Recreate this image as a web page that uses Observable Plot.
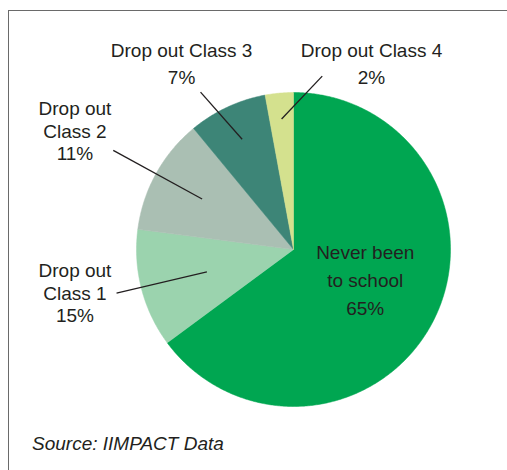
<!DOCTYPE html>
<html>
<head>
<meta charset="utf-8">
<script src="https://cdn.jsdelivr.net/npm/d3@7"></script>
<script src="https://cdn.jsdelivr.net/npm/@observablehq/plot@0.6"></script>
<style>
  html, body { margin: 0; padding: 0; background: #fff; }
  body { width: 507px; height: 470px; position: relative; overflow: hidden; font-family: "Liberation Sans", Arial, sans-serif; }
  #frame { position: absolute; left: 8px; top: 10px; right: -20px; bottom: -20px; border-left: 1.5px solid #6a6a6a; border-top: 1.5px solid #6a6a6a; pointer-events: none; }
  #chart svg { display: block; }
  #caption { margin-top: 8px; padding-left: 32px; font-size: 19px; line-height: 22px; font-style: italic; color: #231f20; }
</style>
</head>
<body>
<div id="chart"></div>
<div id="caption">Source: IIMPACT Data</div>
<div id="frame"></div>
<script>
// ---- data ----
const names = ["Never been to school", "Drop out Class 1", "Drop out Class 2", "Drop out Class 3", "Drop out Class 4"];
const shares = [65, 12.2, 12, 8.1, 2.9];           // slice sizes as drawn
const labels = ["Never been\nto school\n65%", "Drop out\nClass 1\n15%", "Drop out\nClass 2\n11%", "Drop out Class 3\n7%", "Drop out Class 4\n2%"];

// ---- styles / layout (unit-circle coordinates) ----
const colors = ["#00a651", "#9bd3ae", "#aabfb3", "#3d8577", "#d4e18e"];
const labelX = [0.457, -1.392, -1.392, -0.713, 0.497];
const labelY = [-0.420, -0.463, 0.567, 1.054, 1.054];
const labelLH = [1.49, 1.184, 1.184, 1.447, 1.447];
const leaderInner = [null, 0.57, 0.665, 0.775, 0.835];
const leaderOuterX = [null, -1.127, -1.148, -0.592, 0.183];
const leaderOuterY = [null, -0.278, 0.631, 1.002, 1.104];

const arcs = d3.pie().sort(null).startAngle(0).endAngle(2 * Math.PI)(shares);

// slice polygons
const poly = [];
arcs.forEach((a, i) => {
  poly.push({name: names[i], x: 0, y: 0});
  const steps = Math.max(2, Math.ceil((a.endAngle - a.startAngle) / (Math.PI / 360)));
  for (let k = 0; k <= steps; k++) {
    const t = a.startAngle + (a.endAngle - a.startAngle) * k / steps;
    poly.push({name: names[i], x: Math.sin(t), y: Math.cos(t)});
  }
  poly.push({name: names[i], x: 0, y: 0});
});

const leaders = arcs.map((a, i) => {
  if (leaderInner[i] == null) return null;
  const m = (a.startAngle + a.endAngle) / 2;
  return {x1: leaderInner[i] * Math.sin(m), y1: leaderInner[i] * Math.cos(m), x2: leaderOuterX[i], y2: leaderOuterY[i]};
}).filter(d => d);

const textRows = names.map((n, i) => ({name: n, text: labels[i], x: labelX[i], y: labelY[i], lh: labelLH[i]}));
const textMarks = [...new Set(labelLH)].map(lh =>
  Plot.text(textRows.filter(d => d.lh === lh), {
    x: "x", y: "y", text: "text", lineAnchor: "bottom", lineHeight: lh,
    fontSize: 19, fill: "#231f20", fontFamily: "Liberation Sans, Arial, sans-serif"
  })
);

const chart = Plot.plot({
  width: 507,
  height: 425,
  margin: 0,
  x: {domain: [-1, 1], range: [136, 450], axis: null},
  y: {domain: [-1, 1], range: [406, 92], axis: null},
  color: {domain: names, range: colors},
  style: {background: "transparent", overflow: "visible"},
  marks: [
    Plot.line(poly, {x: "x", y: "y", z: "name", fill: "name", stroke: "name", strokeWidth: 0.5, curve: "linear"}),
    Plot.link(leaders, {x1: "x1", y1: "y1", x2: "x2", y2: "y2", stroke: "#231f20", strokeWidth: 1.3}),
    ...textMarks
  ]
});
document.getElementById("chart").appendChild(chart);
</script>
</body>
</html>
